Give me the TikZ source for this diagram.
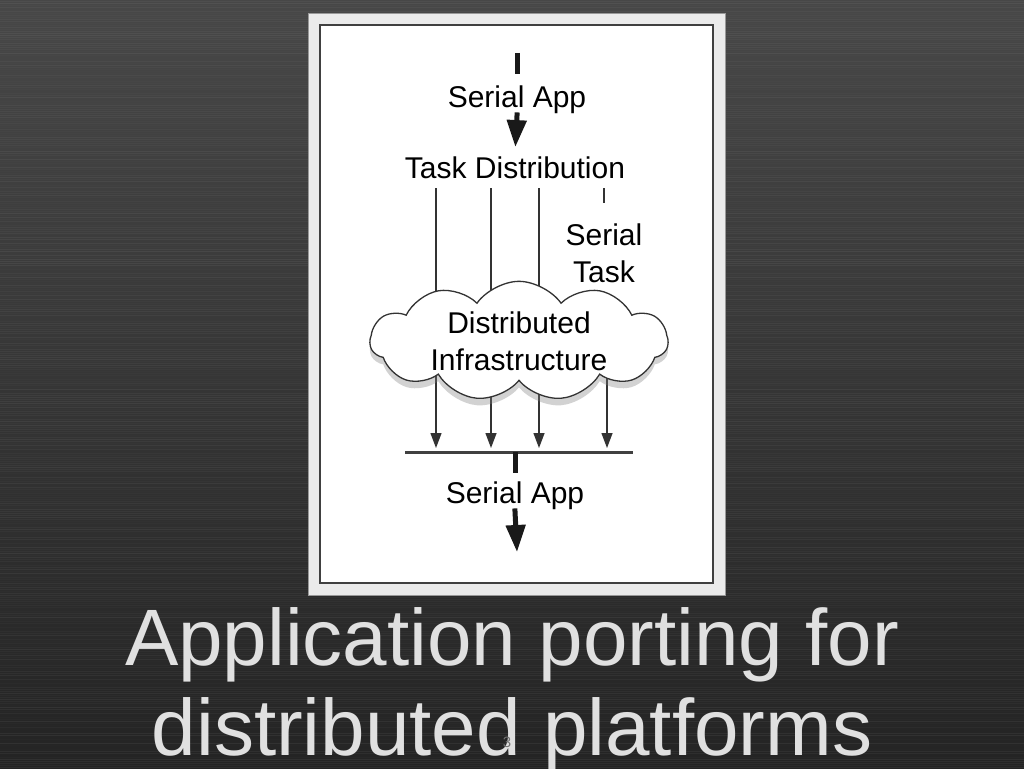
\documentclass[tikz,border=0pt]{standalone}
\usepackage{fontspec}
\setmainfont{Liberation Sans}
\usetikzlibrary{arrows.meta,positioning,calc,shapes.symbols,shadows}
\tikzset{txt/.style={font=\fontsize{30}{37}\selectfont,align=center,inner sep=2pt,text=black},ttl/.style={font=\fontsize{80}{90}\selectfont,text=white!88!black,inner sep=0pt},stub/.style={line width=5pt,black!90},flow/.style={-{Triangle[length=27pt,width=19pt]},line width=5pt,black!90},wire/.style={line width=1.3pt,black!80},feed/.style={-{Triangle[length=15pt,width=11pt]},line width=1.3pt,black!80},rail/.style={line width=3pt,black!75},puff/.style={cloud,cloud puffs=11,cloud puff arc=110,aspect=2.9,draw=black!80,line width=1.3pt,fill=white,drop shadow={shadow xshift=0pt,shadow yshift=-7pt,opacity=0.35}}}

\begin{document}
\begin{tikzpicture}[x=1pt,y=-1pt]
\useasboundingbox (0,0) rectangle (1024,768);
\shade[top color=black!72,bottom color=black!86] (0,0) rectangle (1024,768);
\pgfmathsetseed{11}
\foreach \yy in {1,3,...,768}{
  \pgfmathsetmacro\op{rnd*0.06}
  \draw[white,opacity=\op,line width=0.7pt] (0,\yy) -- (1024,\yy);
}
% slide frame
\filldraw[fill=white!92!black,draw=black!40] (308,13) rectangle (725,595);
\filldraw[fill=white,draw=black!75,line width=2pt] (320,25) rectangle (713,583);

\node[txt,anchor=base] (app1) at (517,107) {Serial App};
\node[txt,anchor=base] (dist) at (515,178) {Task Distribution};
\node[txt] (task) at (604,253) {Serial\\Task};
\node[txt,anchor=base] (app2) at (515,503) {Serial App};

\coordinate (src) at (517,53);
\coordinate (sink) at (517,552);
\coordinate (railL) at (405,452);
\coordinate (railR) at (633,452);
\coordinate (k1) at (436,452);
\coordinate (k2) at (491,452);
\coordinate (k3) at (539,452);
\coordinate (k4) at (607,452);

\draw[stub,shorten >=9pt] (src) -- (app1.north);
\draw[flow,shorten <=-3pt,shorten >=7pt] (app1.south) -- (dist.north);

% tasks through the cloud
\foreach \k in {k1,k2,k3}{
  \draw[wire,shorten <=8pt] (\k |- dist.south) -- (\k |- 0,341);
}
\draw[wire,shorten <=8pt] (task.north |- dist.south) -- ++(0,23);
\foreach \k in {k1,k2,k3,k4}{
  \draw[feed,shorten >=4pt] (\k |- 0,341) -- (\k);
}
\node[puff,txt,inner sep=0pt,minimum width=298pt,minimum height=103pt] (cloud) at (519,341) {Distributed\\Infrastructure};

\draw[rail] (railL) -- (railR);
\draw[stub,shorten >=6pt] (app2.north |- railL) -- (app2.north);
\draw[flow,shorten <=-3pt] (app2.south) -- (sink);

% title
\node[ttl,anchor=base] (ttl1) at (512,665) {Application porting for};
\node[ttl,anchor=base] (ttl2) at (512,755) {distributed platforms};
\node[font=\fontsize{15}{15}\selectfont,text=black!55,inner sep=0pt] (pg) at (507,742) {3};
\end{tikzpicture}
\end{document}
